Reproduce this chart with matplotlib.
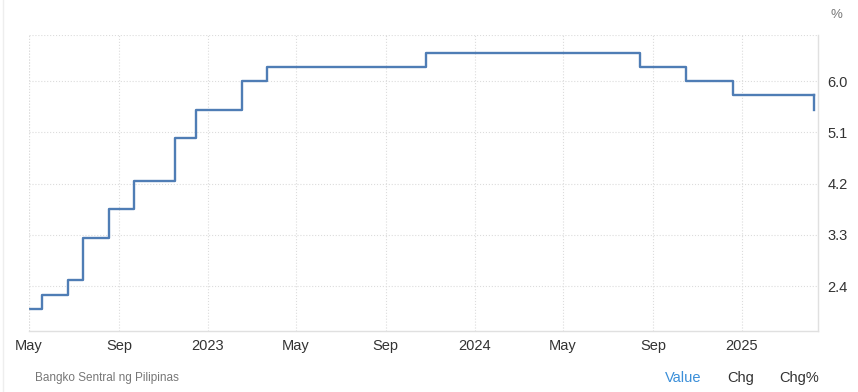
#!/usr/bin/env python3
"""Philippines policy rate step chart (BSP)."""

import matplotlib
matplotlib.use("Agg")
import matplotlib.pyplot as plt
import pandas as pd

plt.rcParams["font.family"] = ["Liberation Sans", "DejaVu Sans"]

# decision dates and rates
DATES = [
    "2022-04-30", "2022-05-19", "2022-06-23", "2022-07-14", "2022-08-18",
    "2022-09-22", "2022-11-17", "2022-12-15", "2023-02-16", "2023-03-23",
    "2023-10-26", "2024-08-15", "2024-10-16", "2024-12-19", "2025-04-10",
]
RATES = [2.0, 2.25, 2.5, 3.25, 3.75, 4.25, 5.0, 5.5, 6.0, 6.25, 6.5, 6.25, 6.0, 5.75, 5.5]
Y_TICKS = [2.4, 3.3, 4.2, 5.1, 6.0]
X_TICKS = ["2022-05-01", "2022-09-01", "2023-01-01", "2023-05-01", "2023-09-01",
           "2024-01-01", "2024-05-01", "2024-09-01", "2025-01-01"]
X_LABELS = ["May", "Sep", "2023", "May", "Sep", "2024", "May", "Sep", "2025"]

LINE = "#4f7db5"
GRID = "#dcdcdc"
TEXT = "#333333"

W, H = 858, 392


def main() -> None:
    dates = pd.to_datetime(DATES)
    fig = plt.figure(figsize=(W / 100, H / 100), dpi=100)
    ax = fig.add_axes([29 / W, (H - 331) / H, (818 - 29) / W, (331 - 35) / H])

    # step line held at the previous level, then the final drop
    ax.step(dates[:-1].tolist() + [dates[-1]], RATES[:-1] + [RATES[-2]], where="post",
            color=LINE, linewidth=1.7)
    ax.plot([dates[-1], dates[-1]], [RATES[-2], RATES[-1]], color=LINE, linewidth=1.7)

    ax.set_xlim(pd.Timestamp("2022-05-01"), pd.Timestamp("2025-04-15"))
    ax.set_ylim(1.61, 6.81)

    ax.set_yticks(Y_TICKS)
    ax.set_yticklabels([f"{v:.1f}" for v in Y_TICKS])
    ax.yaxis.tick_right()
    ax.set_xticks(pd.to_datetime(X_TICKS))
    ax.set_xticklabels(X_LABELS)
    ax.tick_params(axis="both", length=0, labelsize=10.5, colors=TEXT)
    ax.tick_params(axis="y", pad=7)
    ax.tick_params(axis="x", pad=6)

    ax.grid(True, color=GRID, linestyle=":", linewidth=0.8)
    ax.axhline(6.81, color=GRID, linestyle=":", linewidth=0.8)
    ax.axvline(pd.Timestamp("2022-05-01"), color=GRID, linestyle=":", linewidth=0.8)

    for side in ["top", "left"]:
        ax.spines[side].set_visible(False)
    for side in ["bottom", "right"]:
        ax.spines[side].set_color("#e0e0e0")
        ax.spines[side].set_linewidth(1)

    fig.text(836 / W, 1 - 15 / H, "%", fontsize=9.5, color="#777777", ha="center", va="center")
    fig.text(35 / W, 1 - 378 / H, "Bangko Sentral ng Pilipinas", fontsize=8.5, color="#777777",
             ha="left", va="center")
    fig.text(683 / W, 1 - 378 / H, "Value", fontsize=10.5, color="#3b8fd9", ha="center", va="center")
    fig.text(741 / W, 1 - 378 / H, "Chg", fontsize=10.5, color=TEXT, ha="center", va="center")
    fig.text(799 / W, 1 - 378 / H, "Chg%", fontsize=10.5, color=TEXT, ha="center", va="center")

    # faint page border on the left
    fig.add_artist(plt.Line2D([3 / W, 3 / W], [0, 1], color="#eeeeee", linewidth=1))

    fig.savefig("out.png", dpi=100)


if __name__ == "__main__":
    main()
